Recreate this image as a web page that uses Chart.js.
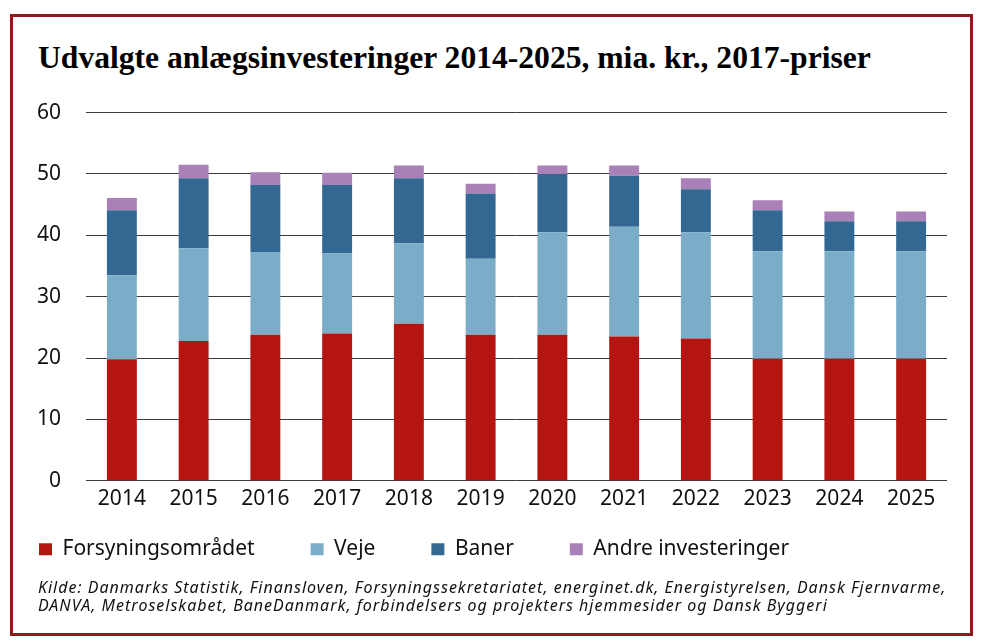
<!DOCTYPE html>
<html>
<head>
<meta charset="utf-8">
<script src="https://cdn.jsdelivr.net/npm/chart.js@4"></script>
<style>
  html, body { margin: 0; padding: 0; background: #fff; width: 990px; height: 644px; overflow: hidden; position: relative; }
  #ramme { position: absolute; left: 10px; top: 14px; width: 963px; height: 622px; box-sizing: border-box; border: 3px solid #8c1b1c; }
  #titel { position: absolute; left: 38px; top: 42px; font-family: "Liberation Serif", serif; font-weight: bold; font-size: 31.6px; line-height: 31px; color: #000; white-space: nowrap; }
  #kilde { position: absolute; left: 38px; top: 578px; font-family: "Noto Sans", sans-serif; font-style: italic; font-size: 16px; letter-spacing: 1px; line-height: 18px; color: #111; white-space: nowrap; }
  #wrap { position: absolute; left: -17px; top: 75px; width: 1007px; height: 530px; }
</style>
</head>
<body>
<div id="ramme"></div>
<div id="titel">Udvalgte anlægsinvesteringer 2014-2025, mia. kr., 2017-priser</div>
<div id="wrap"><canvas id="graf"></canvas></div>
<div id="kilde">Kilde: Danmarks Statistik, Finansloven, Forsyningssekretariatet, energinet.dk, Energistyrelsen, Dansk Fjernvarme,<br>DANVA, Metroselskabet, BaneDanmark, forbindelsers og projekters hjemmesider og Dansk Byggeri</div>
<script>
// mia. kr.
const aar = ['2014', '2015', '2016', '2017', '2018', '2019', '2020', '2021', '2022', '2023', '2024', '2025'];
const forsyning = [19.8, 22.8, 23.8, 24.0, 25.6, 23.8, 23.8, 23.5, 23.2, 19.9, 19.9, 19.9];
const veje      = [13.7, 15.1, 13.5, 13.1, 13.1, 12.4, 16.7, 17.9, 17.3, 17.5, 17.5, 17.5];
const baner     = [10.6, 11.4, 10.9, 11.1, 10.6, 10.6, 9.5, 8.3, 7.0, 6.7, 4.9, 4.9];
const andre     = [2.0, 2.2, 2.1, 2.0, 2.1, 1.6, 1.4, 1.7, 1.8, 1.6, 1.6, 1.6];
const yTicks = [0, 10, 20, 30, 40, 50, 60];

const farver = ['#b41511', '#7badc8', '#336892', '#a980b8'];
const serier = [
  ['Forsyningsområdet', forsyning],
  ['Veje', veje],
  ['Baner', baner],
  ['Andre investeringer', andre]
];

const datasets = serier.map((s, i) => ({
  label: s[0],
  data: s[1],
  backgroundColor: farver[i],
  borderWidth: 0,
  categoryPercentage: 1,
  barPercentage: 0.417
}));

const skrift = { family: '"Noto Sans", sans-serif', size: 21 };

// legenden skal stå lige under årstallene, med god luft mellem punkterne
const legendeOp = {
  id: 'legendeOp',
  afterLayout(chart) {
    const lg = chart.legend;
    const h = lg.bottom - lg.top;
    lg.top = chart.chartArea.bottom + 2;
    lg.bottom = lg.top + h;
  }
};

new Chart(document.getElementById('graf'), {
  type: 'bar',
  data: { labels: aar, datasets },
  plugins: [legendeOp],
  options: {
    responsive: true,
    maintainAspectRatio: false,
    animation: false,
    layout: { padding: { top: 0, right: 43, left: 0, bottom: 0 } },
    plugins: {
      title: { display: false },
      tooltip: { enabled: false },
      legend: {
        position: 'bottom',
        align: 'start',
        labels: {
          color: '#111',
          font: { family: '"Noto Sans", sans-serif', size: 21 },
          boxWidth: 13,
          boxHeight: 12,
          padding: 56
        }
      }
    },
    scales: {
      x: {
        stacked: true,
        grid: { display: false, drawTicks: false },
        border: { display: false },
        ticks: { color: '#111', font: skrift, padding: 6, maxRotation: 0 }
      },
      y: {
        stacked: true,
        min: 0,
        max: 60,
        afterBuildTicks: (s) => { s.ticks = yTicks.map(v => ({ value: v })); },
        grid: { color: '#3a3a3a', lineWidth: 1, drawTicks: false },
        border: { display: false },
        ticks: { color: '#111', font: skrift, padding: 25 },
        afterFit: (s) => { s.width = 103; }
      }
    }
  }
});
</script>
</body>
</html>
